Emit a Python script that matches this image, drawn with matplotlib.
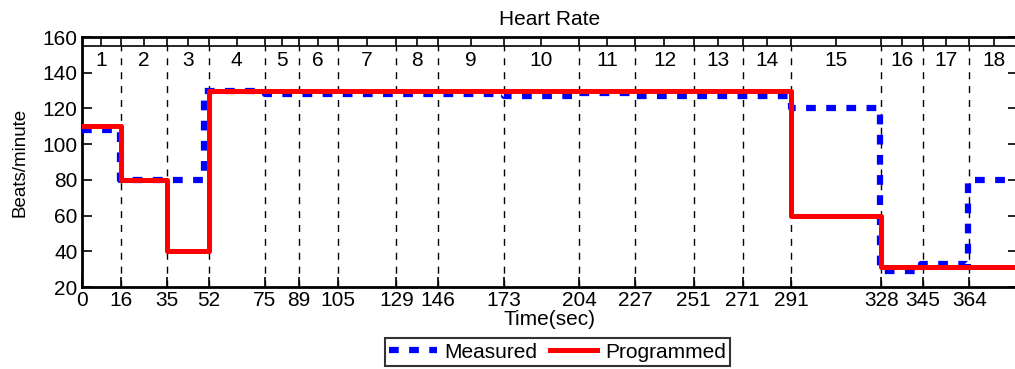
import matplotlib
matplotlib.use('Agg')
import matplotlib.pyplot as plt
import numpy as np

plt.rcParams['font.family'] = ['Liberation Sans', 'DejaVu Sans']
plt.rcParams['lines.scale_dashes'] = False

# stage boundaries (sec) and stage numbers
bounds = [0, 16, 35, 52, 75, 89, 105, 129, 146, 173, 204, 227, 251, 271, 291, 328, 345, 364]
t_end = 384
stages = [str(i) for i in range(1, 19)]

# programmed heart rate: change times and levels
prog_t = [0, 16, 35, 52, 291, 328, t_end]
prog_v = [110, 80, 40, 130, 60, 31]

# measured heart rate: change times and levels
meas_t = [0, 15.5, 50, 75, 173, 204, 227, 291, 327.5, 344, 363.5, t_end]
meas_v = [108, 80, 129.5, 128, 127, 128.5, 127, 120, 29, 33, 80]

FS = 15

fig = plt.figure(figsize=(10.15, 3.69), dpi=100)
ax = fig.add_axes([0.0805, 0.2222, 0.9225, 0.6775])

ax.plot(meas_t, meas_v + [meas_v[-1]], drawstyle='steps-post', color='#0000ff',
        lw=4.5, linestyle=(0, (7, 7.5)), label='Measured', zorder=3)
ax.plot(prog_t, prog_v + [prog_v[-1]], drawstyle='steps-post', color='#ff0000',
        lw=3.6, label='Programmed', zorder=4)

# stage boundaries and labels
ax.vlines(bounds[1:], 20, 155, colors='k', linestyles=(0, (5, 5)), lw=1, zorder=1)
edges = bounds + [t_end]
mids = [(a + b) / 2 for a, b in zip(edges[:-1], edges[1:])]
ax.axhline(155, color='k', lw=1.2)
ax.vlines(bounds + mids, 155, 160, colors='k', lw=1.2)
for m, s in zip(mids, stages):
    ax.text(m, 147, s, ha='center', va='center', fontsize=FS)

ax.set_xlim(0, t_end)
ax.set_ylim(20, 160)
ax.set_xticks(bounds)
ax.set_yticks(np.arange(20, 161, 20))
ax.tick_params(direction='in', length=7, width=1.2, labelsize=FS, right=True, pad=3)
for sp in ['left', 'bottom', 'top']:
    ax.spines[sp].set_linewidth(2)

ax.set_title('Heart Rate', fontsize=FS, pad=9)
ax.set_xlabel('Time(sec)', fontsize=FS, labelpad=0)
ax.set_ylabel('Beats/minute', fontsize=13.5, labelpad=10)

leg = fig.legend(loc='center', bbox_to_anchor=(0.549, 0.046), ncol=2, fontsize=FS,
                 frameon=True, fancybox=False, edgecolor='k', handlelength=2.3,
                 handletextpad=0.35, columnspacing=0.6, borderpad=0.2)
leg.get_frame().set_linewidth(1.5)

plt.savefig('out.png', dpi=100)
plt.close()
